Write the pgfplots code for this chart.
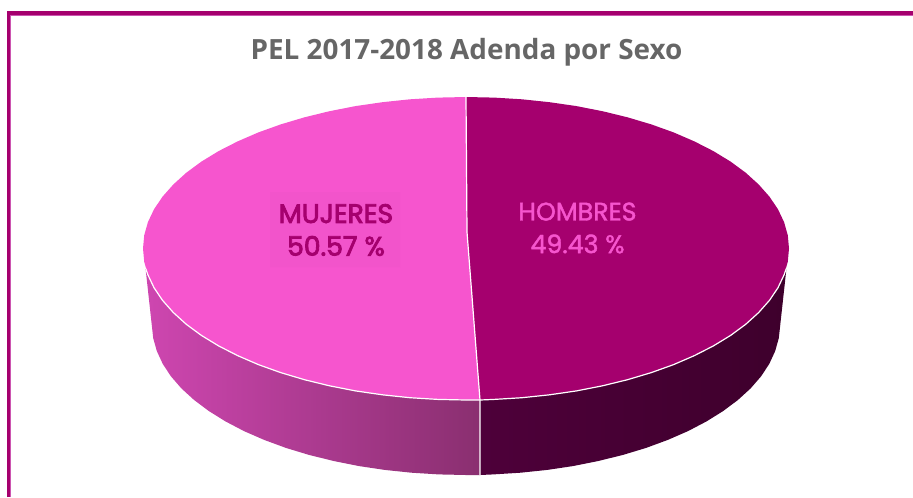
\documentclass[border=0pt]{standalone}
\usepackage{pgfplots}
\usepackage{fontspec}
\pgfplotsset{compat=1.18}
\setmainfont{Open Sans}
\newfontfamily\popb[FakeBold=3.2]{Poppins}
\newfontfamily\popm[FakeBold=1.6]{Poppins}
\definecolor{dark}{HTML}{A5006E}
\definecolor{pink}{HTML}{F655CE}
\definecolor{box}{HTML}{F254CB}
\definecolor{rim}{HTML}{CC55B0}
\definecolor{ttl}{HTML}{666666}
\definecolor{sl1}{HTML}{CE46B0}
\definecolor{sl2}{HTML}{8A2F70}
\definecolor{sr1}{HTML}{4E003A}
\definecolor{sr2}{HTML}{3E002C}
\begin{document}
\begin{tikzpicture}
\begin{axis}[
  scale only axis, width=684.75pt, height=372.75pt,
  xmin=0, xmax=913, ymin=0, ymax=497, y dir=reverse,
  hide axis, clip=true]
% frame
\addplot[draw=dark, line width=2.4pt, forget plot] coordinates {(8.5,497) (8.5,13) (913,13)};
\addplot[draw=rim, line width=0.7pt, forget plot] coordinates {(10.5,497) (10.5,15.2) (913,15.2)};
% side, MUJERES
\addplot[draw=none, left color=sl1, right color=sl2, forget plot] coordinates {
(145.5,268)(153.2,338.1)(156.8,351)(162.7,363.8)(170.9,376.3)(181.4,388.4)(194.1,400)(208.8,411)(225.5,421.4)(244,431.1)(264.2,439.9)(285.9,447.9)(309,454.9)(333.3,460.9)(358.6,466)(384.7,469.9)(411.5,472.7)(438.6,474.4)(466,475)(480,475)(480,400)
(466,400)(437.8,399.4)(409.9,397.7)(382.4,394.8)(355.5,390.9)(329.5,385.8)(304.5,379.7)(280.7,372.6)(258.4,364.6)(237.6,355.6)(218.6,345.9)(201.4,335.4)(186.3,324.3)(173.3,312.5)(162.5,300.3)(154,287.7)(147.9,274.8)(145.5,268)} ;
% side, HOMBRES
\addplot[draw=none, left color=sr1, right color=sr2, forget plot] coordinates {
(480,400)(494.2,399.4)(522.1,397.7)(549.6,394.8)(576.5,390.9)(602.5,385.8)(627.5,379.7)(651.3,372.6)(673.6,364.6)(694.4,355.6)(713.4,345.9)(730.6,335.4)(745.7,324.3)(758.7,312.5)(769.5,300.3)(778,287.7)(784.1,274.8)(786.5,268)
(778.8,338.1)(775.2,351)(769.3,363.8)(761.1,376.3)(750.6,388.4)(737.9,400)(723.2,411)(706.5,421.4)(688,431.1)(667.8,439.9)(646.1,447.9)(623,454.9)(598.7,460.9)(573.4,466)(547.3,469.9)(520.5,472.7)(493.4,474.4)(480,475)(480,400)};
% top, HOMBRES 49.43
\addplot[draw=none, fill=dark, forget plot] coordinates {
(466,97)(494.2,97.6)(522.1,99.3)(549.6,102.2)(576.5,106.1)(602.5,111.2)(627.5,117.3)(651.3,124.4)(673.6,132.4)(694.4,141.4)(713.4,151.1)(730.6,161.6)(745.7,172.7)(758.7,184.5)(769.5,196.7)(778,209.3)(784.1,222.2)(787.8,235.3)(789,248.5)(787.8,261.7)(784.1,274.8)(778,287.7)(769.5,300.3)(758.7,312.5)(745.7,324.3)(730.6,335.4)(713.4,345.9)(694.4,355.6)(673.6,364.6)(651.3,372.6)(627.5,379.7)(602.5,385.8)(576.5,390.9)(549.6,394.8)(522.1,397.7)(494.2,399.4)(480,400)(467,232)(466,97)};
% top, MUJERES 50.57
\addplot[draw=none, fill=pink, forget plot] coordinates {
(466,97)(467,232)(480,400)(466,400)(437.8,399.4)(409.9,397.7)(382.4,394.8)(355.5,390.9)(329.5,385.8)(304.5,379.7)(280.7,372.6)(258.4,364.6)(237.6,355.6)(218.6,345.9)(201.4,335.4)(186.3,324.3)(173.3,312.5)(162.5,300.3)(154,287.7)(147.9,274.8)(144.2,261.7)(143,248.5)(144.2,235.3)(147.9,222.2)(154,209.3)(162.5,196.7)(173.3,184.5)(186.3,172.7)(201.4,161.6)(218.6,151.1)(237.6,141.4)(258.4,132.4)(280.7,124.4)(304.5,117.3)(329.5,111.2)(355.5,106.1)(382.4,102.2)(409.9,99.3)(437.8,97.6)(466,97)};
% white rim and dividers
\addplot[draw=white, line width=0.9pt, forget plot] coordinates {
(786.5,268)(784.1,274.8)(778,287.7)(769.5,300.3)(758.7,312.5)(745.7,324.3)(730.6,335.4)(713.4,345.9)(694.4,355.6)(673.6,364.6)(651.3,372.6)(627.5,379.7)(602.5,385.8)(576.5,390.9)(549.6,394.8)(522.1,397.7)(494.2,399.4)(480,400)(466,400)(437.8,399.4)(409.9,397.7)(382.4,394.8)(355.5,390.9)(329.5,385.8)(304.5,379.7)(280.7,372.6)(258.4,364.6)(237.6,355.6)(218.6,345.9)(201.4,335.4)(186.3,324.3)(173.3,312.5)(162.5,300.3)(154,287.7)(147.9,274.8)(145.5,268)};
\addplot[draw=white, line width=0.9pt, forget plot] coordinates {(466,97)(467,232)(480,400)(480,475)};
% label box
\addplot[draw=none, fill=box, forget plot] coordinates {(270,192)(400,192)(400,267)(270,267)(270,192)};
\node[text=ttl, font=\fontsize{20.9}{24}\selectfont\bfseries, anchor=center] at (axis cs:466.5,52) {PEL 2017-2018 Adenda por Sexo};
\node[text=dark, font=\popb\fontsize{20}{22}\selectfont, align=center, anchor=center] at (axis cs:336,230) {MUJERES\\[2.5pt]50.57 \%};
\node[text=pink, font=\popm\fontsize{19}{22}\selectfont, align=center, anchor=center] at (axis cs:577.5,228) {HOMBRES\\[2.5pt]49.43 \%};
\path (axis cs:0,0) rectangle (axis cs:913,497);
\end{axis}
\end{tikzpicture}
\end{document}
